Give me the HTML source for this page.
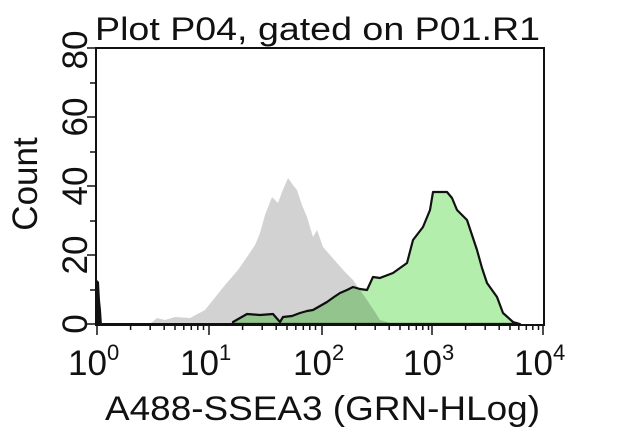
<!DOCTYPE html>
<html><head><style>html,body{margin:0;padding:0;background:#fff;}svg{display:block}</style></head>
<body>
<svg width="640" height="429" viewBox="0 0 640 429" xmlns="http://www.w3.org/2000/svg" font-family="'Liberation Sans', 'DejaVu Sans', sans-serif" fill="#111">
<text x="95" y="40" font-size="32" textLength="445" lengthAdjust="spacingAndGlyphs">Plot P04, gated on P01.R1</text>
<polygon fill="#d2d2d2" points="150,324 157,318 165,320 175,317 190,318 205,310 213,300 225,285 238,270 247,257 255,245 260,233 265,215 272,197 278,203 282,192 288,178 293,185 297,190 302,205 307,217 313,237 317,230 323,247 330,255 337,263 345,272 353,280 360,290 367,300 375,312 380,320 390,323 397,324"/>
<polygon fill="#b4eeac" style="mix-blend-mode:multiply" stroke="#111" stroke-width="2.2" stroke-linejoin="round" points="233,324 233,322 240,318 247,314 260,315 273,314 280,322 283,317 292,316 300,313 307,311 313,310 320,306 327,302 334,297 340,293 347,290 353,287 360,289 367,290 373,277 380,278 393,273 400,268 407,263 413,240 423,227 430,210 433,192 440,192 447,192 452,198 457,210 467,220 472,235 477,250 482,268 487,283 497,297 503,313 513,322 520,324"/>
<polygon fill="#111" points="96,325 97,280 99,282 100,300 101,310 102,325"/>
<polyline fill="none" stroke="#111" stroke-width="2" points="102,324 233,324"/>
<rect x="96" y="48" width="448" height="277" fill="none" stroke="#111" stroke-width="2"/>
<g stroke="#111" stroke-width="1.5">
<line x1="87" y1="324" x2="96" y2="324"/><line x1="90" y1="290" x2="96" y2="290"/>
<line x1="87" y1="255" x2="96" y2="255"/><line x1="90" y1="221" x2="96" y2="221"/>
<line x1="87" y1="186" x2="96" y2="186"/><line x1="90" y1="152" x2="96" y2="152"/>
<line x1="87" y1="117" x2="96" y2="117"/><line x1="90" y1="83" x2="96" y2="83"/>
<line x1="87" y1="48" x2="96" y2="48"/>
<line x1="97" y1="325" x2="97" y2="335"/><line x1="209" y1="325" x2="209" y2="335"/>
<line x1="322" y1="325" x2="322" y2="335"/><line x1="432" y1="325" x2="432" y2="335"/>
<line x1="543" y1="325" x2="543" y2="335"/>
<line x1="130.6" y1="325" x2="130.6" y2="330"/><line x1="150.2" y1="325" x2="150.2" y2="330"/><line x1="164.2" y1="325" x2="164.2" y2="330"/><line x1="175" y1="325" x2="175" y2="330"/><line x1="183.8" y1="325" x2="183.8" y2="330"/><line x1="191.3" y1="325" x2="191.3" y2="330"/><line x1="197.8" y1="325" x2="197.8" y2="330"/><line x1="203.5" y1="325" x2="203.5" y2="330"/>
<line x1="242.6" y1="325" x2="242.6" y2="330"/><line x1="262.2" y1="325" x2="262.2" y2="330"/><line x1="276.2" y1="325" x2="276.2" y2="330"/><line x1="287" y1="325" x2="287" y2="330"/><line x1="295.8" y1="325" x2="295.8" y2="330"/><line x1="303.3" y1="325" x2="303.3" y2="330"/><line x1="309.8" y1="325" x2="309.8" y2="330"/><line x1="315.5" y1="325" x2="315.5" y2="330"/>
<line x1="355.6" y1="325" x2="355.6" y2="330"/><line x1="375.2" y1="325" x2="375.2" y2="330"/><line x1="389.2" y1="325" x2="389.2" y2="330"/><line x1="400" y1="325" x2="400" y2="330"/><line x1="408.8" y1="325" x2="408.8" y2="330"/><line x1="416.3" y1="325" x2="416.3" y2="330"/><line x1="422.8" y1="325" x2="422.8" y2="330"/><line x1="428.5" y1="325" x2="428.5" y2="330"/>
<line x1="465.6" y1="325" x2="465.6" y2="330"/><line x1="485.2" y1="325" x2="485.2" y2="330"/><line x1="499.2" y1="325" x2="499.2" y2="330"/><line x1="510" y1="325" x2="510" y2="330"/><line x1="518.8" y1="325" x2="518.8" y2="330"/><line x1="526.3" y1="325" x2="526.3" y2="330"/><line x1="532.8" y1="325" x2="532.8" y2="330"/><line x1="538.5" y1="325" x2="538.5" y2="330"/>
</g>
<g font-size="35" text-anchor="middle">
<text transform="translate(87,324) rotate(-90)">0</text>
<text transform="translate(87,255) rotate(-90)">20</text>
<text transform="translate(87,186) rotate(-90)">40</text>
<text transform="translate(87,117) rotate(-90)">60</text>
<text transform="translate(87,50) rotate(-90)">80</text>
<text transform="translate(37,184) rotate(-90)" font-size="35">Count</text>
</g>
<g font-size="35">
<text x="68" y="375">10<tspan font-size="22" dy="-15">0</tspan></text>
<text x="180" y="375">10<tspan font-size="22" dy="-15">1</tspan></text>
<text x="293" y="375">10<tspan font-size="22" dy="-15">2</tspan></text>
<text x="403" y="375">10<tspan font-size="22" dy="-15">3</tspan></text>
<text x="514" y="375">10<tspan font-size="22" dy="-15">4</tspan></text>
</g>
<text x="105" y="420" font-size="34" textLength="435" lengthAdjust="spacingAndGlyphs">A488-SSEA3 (GRN-HLog)</text>
</svg>
</body></html>
